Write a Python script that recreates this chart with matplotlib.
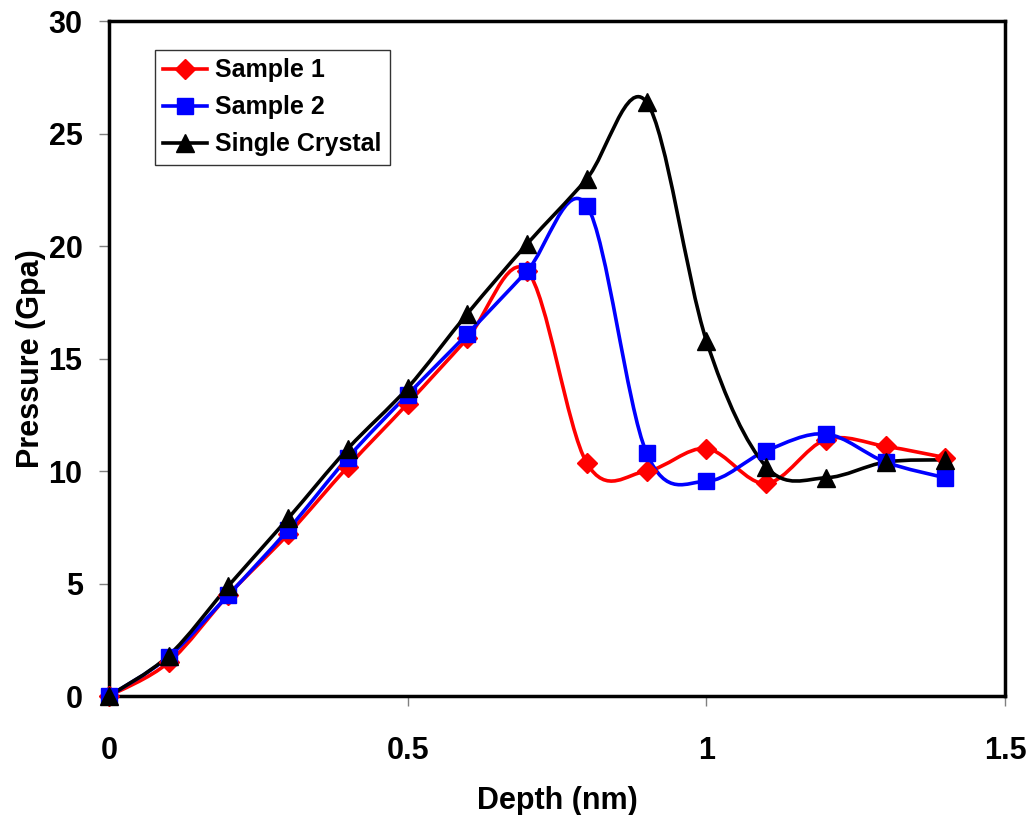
import numpy as np
import matplotlib
matplotlib.use("Agg")
import matplotlib.pyplot as plt
from matplotlib.path import Path
from matplotlib.patches import PathPatch
from matplotlib.lines import Line2D

depth = [0, 0.1, 0.2, 0.3, 0.4, 0.5, 0.6, 0.7, 0.8, 0.9, 1.0, 1.1, 1.2, 1.3, 1.4]
sample1 = [0, 1.5, 4.5, 7.2, 10.2, 13.0, 15.9, 18.9, 10.35, 10.0, 11.0, 9.45, 11.4, 11.1, 10.6]
sample2 = [0, 1.75, 4.5, 7.4, 10.6, 13.4, 16.1, 18.9, 21.8, 10.8, 9.55, 10.9, 11.65, 10.4, 9.7]
single = [0, 1.8, 4.9, 7.9, 11.0, 13.7, 17.0, 20.1, 23.0, 26.4, 15.8, 10.2, 9.7, 10.4, 10.5]

labels = ["Sample 1", "Sample 2", "Single Crystal"]
colors = ["#ff0000", "#0000ff", "#000000"]
markers = ["D", "s", "^"]
msizes = [10, 12, 13]

plt.rcParams['font.family'] = ['Liberation Sans', 'DejaVu Sans']
plt.rcParams['font.weight'] = 'bold'

fig = plt.figure(figsize=(10.34, 8.15), dpi=100)
ax = fig.add_axes([0.1054, 0.146, 0.8666, 0.828])


def smooth_path(x, y):
    # Excel-style smoothed line: cubic Bezier segments (Catmull-Rom control points)
    x = np.asarray(x, float)
    y = np.asarray(y, float)
    n = len(x)
    verts = [(x[0], y[0])]
    codes = [Path.MOVETO]
    for i in range(n - 1):
        p0 = np.array([x[max(i - 1, 0)], y[max(i - 1, 0)]])
        p1 = np.array([x[i], y[i]])
        p2 = np.array([x[i + 1], y[i + 1]])
        p3 = np.array([x[min(i + 2, n - 1)], y[min(i + 2, n - 1)]])
        c1 = p1 + (p2 - p0) / 6.0
        c2 = p2 - (p3 - p1) / 6.0
        verts += [tuple(c1), tuple(c2), tuple(p2)]
        codes += [Path.CURVE4] * 3
    return Path(verts, codes)


handles = []
for ys, lab, c, m, ms in zip([sample1, sample2, single], labels, colors, markers, msizes):
    patch = PathPatch(smooth_path(depth, ys), facecolor='none', edgecolor=c, lw=2.6,
                      transform=ax.transData, zorder=2, clip_on=False)
    ax.add_patch(patch)
    ax.plot(depth, ys, linestyle='none', marker=m, color=c, markersize=ms,
            markeredgecolor=c, zorder=3, clip_on=False)
    handles.append(Line2D([], [], color=c, lw=2.6, marker=m, markersize=ms, markeredgecolor=c))

ax.set_xlim(0, 1.5)
ax.set_ylim(0, 30)
ax.set_xticks([0, 0.5, 1, 1.5])
ax.set_xticklabels(["0", "0.5", "1", "1.5"])
ax.set_yticks([0, 5, 10, 15, 20, 25, 30])

for sp in ax.spines.values():
    sp.set_linewidth(2.5)
    sp.set_color('black')

ax.tick_params(axis='both', direction='out', length=7, width=1, color='#808080',
               labelsize=22, pad=12)
ax.tick_params(axis='x', pad=22)
for t in ax.get_xticklabels() + ax.get_yticklabels():
    t.set_fontweight('bold')

ax.set_xlabel("Depth (nm)", fontsize=22, fontweight='bold', labelpad=14)
ax.set_ylabel("Pressure (Gpa)", fontsize=22, fontweight='bold', labelpad=2)

leg = ax.legend(handles, labels, loc='upper left', bbox_to_anchor=(0.051, 0.958),
                fontsize=18, frameon=True, fancybox=False, edgecolor='black',
                handlelength=1.75, handletextpad=0.3, borderpad=0.35, labelspacing=0.52,
                borderaxespad=0)
leg.get_frame().set_linewidth(1.0)
for t in leg.get_texts():
    t.set_fontweight('bold')

fig.savefig("out.png", dpi=100)
